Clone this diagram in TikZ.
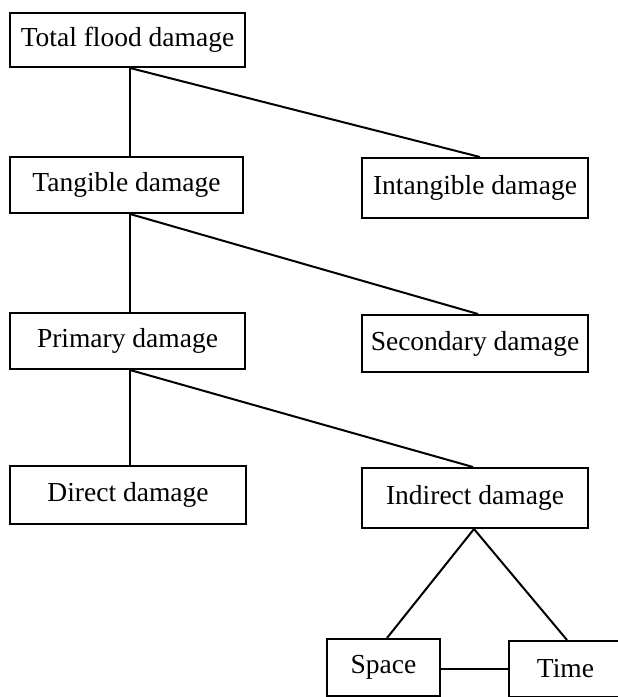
\documentclass[tikz,border=0pt]{standalone}
\usepackage{fontspec}
\setmainfont{Liberation Serif}
\begin{document}
\begin{tikzpicture}[x=1pt,y=-1pt,
  dbox/.style={draw,line width=2pt,rectangle,inner sep=0pt,
    font=\fontsize{27.5}{31}\selectfont},
  link/.style={line width=2pt}]
\useasboundingbox (0,0) rectangle (618,697);
\clip (0,0) rectangle (618,697);
\node[dbox,minimum width=235pt,minimum height=54pt] (total) at (127.5,40) {Total flood damage};
\node[dbox,minimum width=233pt,minimum height=56pt] (tangible) at (126.5,185) {Tangible damage};
\node[dbox,minimum width=226pt,minimum height=60pt] (intangible) at (475,188) {Intangible damage};
\node[dbox,minimum width=235pt,minimum height=56pt] (primary) at (127.5,341) {Primary damage};
\node[dbox,minimum width=226pt,minimum height=57pt] (secondary) at (475,343.5) {Secondary damage};
\node[dbox,minimum width=236pt,minimum height=58pt] (direct) at (128,495) {Direct damage};
\node[dbox,minimum width=226pt,minimum height=60pt] (indirect) at (475,498) {Indirect damage};
\node[dbox,minimum width=113pt,minimum height=57pt] (space) at (383.5,667.5) {Space};
\node[dbox,minimum width=113pt,minimum height=56pt] (time) at (565.5,669) {Time};
\coordinate (ts) at ([xshift=2.5pt]total.south);
\coordinate (gs) at ([xshift=3.5pt]tangible.south);
\coordinate (ps) at ([xshift=2.5pt]primary.south);
\draw[link] (ts) -- (ts |- tangible.north);
\draw[link] (ts) -- ([xshift=5pt]intangible.north);
\draw[link] (gs) -- (gs |- primary.north);
\draw[link] (gs) -- ([xshift=3pt]secondary.north);
\draw[link] (ps) -- (ps |- direct.north);
\draw[link] (ps) -- ([xshift=-2pt]indirect.north);
\draw[link] ([xshift=-1pt]indirect.south) -- ([xshift=3.5pt]space.north);
\draw[link] ([xshift=-1pt]indirect.south) -- ([xshift=1.5pt]time.north);
\draw[link] (time.west -| space.east) -- (time.west);
\end{tikzpicture}
\end{document}
